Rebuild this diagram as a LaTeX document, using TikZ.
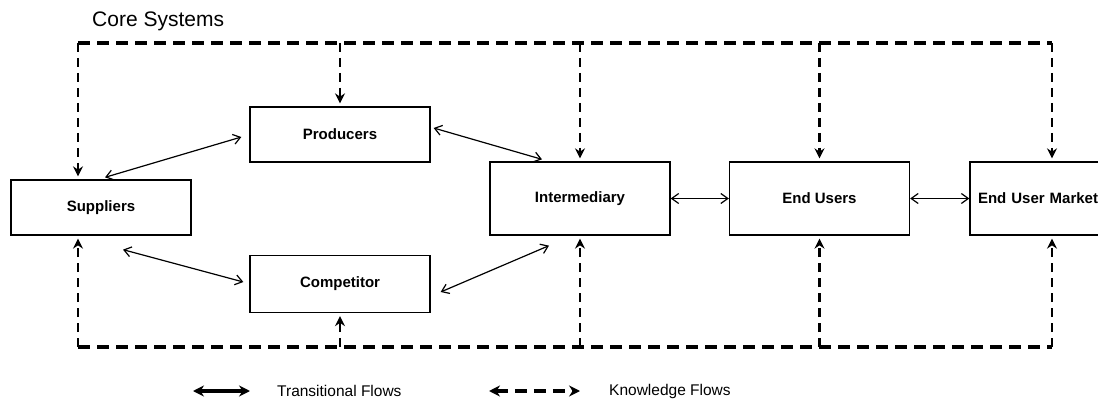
\documentclass[tikz,border=0pt]{standalone}
\usepackage{fontspec}
\setmainfont{Liberation Sans}
\usetikzlibrary{positioning, arrows.meta}

\begin{document}
\begin{tikzpicture}[
    x=1pt, y=-1pt,
    box/.style={draw, line width=1.3pt, minimum width=180pt, minimum height=55pt,
                font=\bfseries\fontsize{15}{18}\selectfont},
    tall/.style={box, minimum height=73pt},
    flow/.style={{Straight Barb[length=7pt,width=10pt]}-{Straight Barb[length=7pt,width=10pt]}, line width=1.2pt},
    know/.style={line width=3.2pt, dash pattern=on 12pt off 7pt},
    kto/.style={line width=2.6pt, dash pattern=on 9pt off 6pt, -{Stealth[length=10pt,width=10pt]}, shorten >=3pt},
    legend/.style={anchor=west, inner sep=0pt, font=\fontsize{15.5}{18}\selectfont}
]
    \useasboundingbox (0,0) rectangle (1098,401);

    % Title
    \node[anchor=west, inner sep=0pt, font=\fontsize{21}{24}\selectfont] (CORE) at (92,21) {Core Systems};

    % Left column
    \node[box] (SUP) at (101,207.5) {Suppliers};

    % Middle column
    \node[box] (PROD) at (340,134.5) {Producers};
    \node[box, below of=PROD, node distance=149.5pt, minimum height=57pt] (COMP) {Competitor};

    % Right row
    \node[tall] (INTER) at (580,198.5) {Intermediary};
    \node[tall, right of=INTER, node distance=239.5pt] (ENDU) {End Users};
    \node[tall, right of=ENDU, node distance=240.5pt, text width=164pt, align=left,
          inner xsep=8pt] (MKT) {End User Market};

    % Transitional flows
    \draw[flow] ([shift={(4,-2)}]SUP.north) -- ([shift={(-8,2.5)}]PROD.west);
    \draw[flow] ([shift={(3,-6.5)}]PROD.east) -- ([shift={(-38,-2)}]INTER.north);
    \draw[flow] ([shift={(22,14)}]SUP.south) -- ([shift={(-6,-2)}]COMP.west);
    \draw[flow] ([shift={(10,8)}]COMP.east) -- ([shift={(-31,10)}]INTER.south);
    \draw[flow] (INTER.east) -- (ENDU.west);
    \draw[flow] (ENDU.east) -- (MKT.west);

    % Knowledge flows: top
    \coordinate (TL) at (78,43);
    \coordinate (TR) at (1052,43);
    \draw[know] (TL) -- (TR);
    \draw[kto] (TL) -- (TL |- SUP.north);
    \draw[kto] (PROD.north |- TL) -- (PROD.north);
    \draw[kto] (INTER.north |- TL) -- (INTER.north);
    \draw[kto] (ENDU.north |- TL) -- (ENDU.north);
    \draw[kto] (TR) -- (TR |- MKT.north);

    % Knowledge flows: bottom
    \coordinate (BL) at (78,347);
    \coordinate (BR) at (1052,347);
    \draw[know] (BL) -- (BR);
    \draw[kto] (BL) -- (BL |- SUP.south);
    \draw[kto] (COMP.south |- BL) -- (COMP.south);
    \draw[kto] (INTER.south |- BL) -- (INTER.south);
    \draw[kto] (ENDU.south |- BL) -- (ENDU.south);
    \draw[kto] (BR) -- (BR |- MKT.south);

    % Legend
    \coordinate (LA1) at (193,391);
    \coordinate (LA2) at (250,391);
    \draw[{Stealth[length=11pt,width=11pt]}-{Stealth[length=11pt,width=11pt]}, line width=3.4pt] (LA1) -- (LA2);
    \node[legend] (LTRANS) at (277,391) {Transitional Flows};
    \coordinate (LB1) at (489,391);
    \coordinate (LB2) at (580,391);
    \draw[know, {Stealth[length=11pt,width=11pt]}-{Stealth[length=11pt,width=11pt]}] (LB1) -- (LB2);
    \node[legend] (LKNOW) at (609,391) {Knowledge Flows};

\end{tikzpicture}
\end{document}
